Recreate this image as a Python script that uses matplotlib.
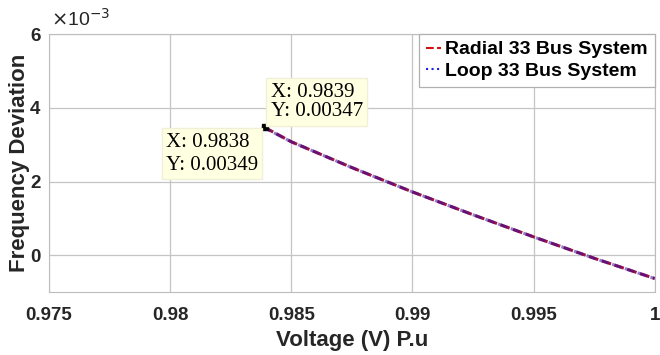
import numpy as np
import matplotlib.pyplot as plt
from matplotlib.ticker import FuncFormatter
from matplotlib.lines import Line2D

# Frequency deviation vs voltage
voltage = [0.9839, 0.985, 0.9875, 0.99, 0.9925, 0.995, 0.9975, 1.0]
freq_radial = [3.47e-3, 3.08e-3, 2.38e-3, 1.72e-3, 1.10e-3, 0.50e-3, -0.08e-3, -0.63e-3]
voltage_loop = [0.9838, 0.985, 0.9875, 0.99, 0.9925, 0.995, 0.9975, 1.0]
freq_loop = [3.49e-3, 3.08e-3, 2.38e-3, 1.72e-3, 1.10e-3, 0.50e-3, -0.08e-3, -0.63e-3]

x_ticks = [0.975, 0.98, 0.985, 0.99, 0.995, 1.0]
x_labels = ['0.975', '0.98', '0.985', '0.99', '0.995', '1']
y_ticks = [0, 2e-3, 4e-3, 6e-3]

tips = [(0.9839, 0.00347), (0.9838, 0.00349)]

fig = plt.figure(figsize=(6.6, 3.55), dpi=100)
ax = fig.add_axes([0.074, 0.177, 0.918, 0.727])

# the two curves sit on top of each other -> purple dashes
ax.plot(voltage, freq_radial, color='#a01040', ls=(0, (3.2, 1.2)), lw=2.2)
ax.plot(voltage_loop, freq_loop, color='#3a10a0', ls=(0, (3.2, 1.2)), lw=2.2, alpha=0.55)

ax.set_xlim(0.975, 1.0)
ax.set_ylim(-1e-3, 6e-3)
ax.set_xticks(x_ticks)
ax.set_xticklabels(x_labels)
ax.set_yticks(y_ticks)
ax.yaxis.set_major_formatter(FuncFormatter(lambda v, p: '%g' % round(v * 1e3, 6)))
ax.text(0.003, 1.015, r'$\times$10$^{-3}$', transform=ax.transAxes, ha='left', va='bottom',
        fontsize=14, family='Liberation Sans', color='#262626')

ax.grid(True, color='#c4c4c4', lw=0.9)
ax.set_axisbelow(True)
for s in ax.spines.values():
    s.set_color('#bdbdbd')
ax.tick_params(length=0, labelsize=13.5)
ax.tick_params(axis='x', pad=11)
ax.tick_params(axis='y', pad=6)
for lab in ax.get_xticklabels() + ax.get_yticklabels():
    lab.set_fontweight('bold')
    lab.set_fontfamily('Liberation Sans')
    lab.set_color('#262626')

ax.set_xlabel('Voltage (V) P.u', fontsize=16, fontweight='bold', family='Liberation Sans',
              color='#262626', labelpad=4)
ax.set_ylabel('Frequency Deviation', fontsize=16, fontweight='bold', family='Liberation Sans',
              color='#262626', labelpad=0)

handles = [Line2D([], [], color='#d01010', ls='--', lw=1.5),
           Line2D([], [], color='#2020e0', ls=':', lw=1.5)]
leg = ax.legend(handles, ['Radial 33 Bus System', 'Loop 33 Bus System'],
                loc='upper right', borderaxespad=0, handlelength=0.8, handletextpad=0.2,
                fancybox=False, framealpha=1, edgecolor='#b0b0b0',
                prop={'family': 'Liberation Sans', 'weight': 'bold', 'size': 14},
                labelspacing=0.2, borderpad=0.35)
leg.get_frame().set_linewidth(0.9)

# data tips
ax.plot([tips[0][0]], [tips[0][1]], 's', color='black', ms=4)
box = dict(boxstyle='square,pad=0.2', facecolor='#ffffe1', edgecolor='#f0f0d8')
ax.annotate('X: %.4f\nY: %.5f' % tips[0], xy=tips[0], xytext=(6, 6), textcoords='offset pixels',
            ha='left', va='bottom', family='Liberation Serif', fontsize=15, bbox=box,
            linespacing=1.05, multialignment='left')
ax.annotate('X: %.4f\nY: %.5f' % tips[1], xy=tips[1], xytext=(-4, -6), textcoords='offset pixels',
            ha='right', va='top', family='Liberation Serif', fontsize=15, bbox=box,
            linespacing=1.3, multialignment='left')

fig.savefig('out.png', dpi=100)
